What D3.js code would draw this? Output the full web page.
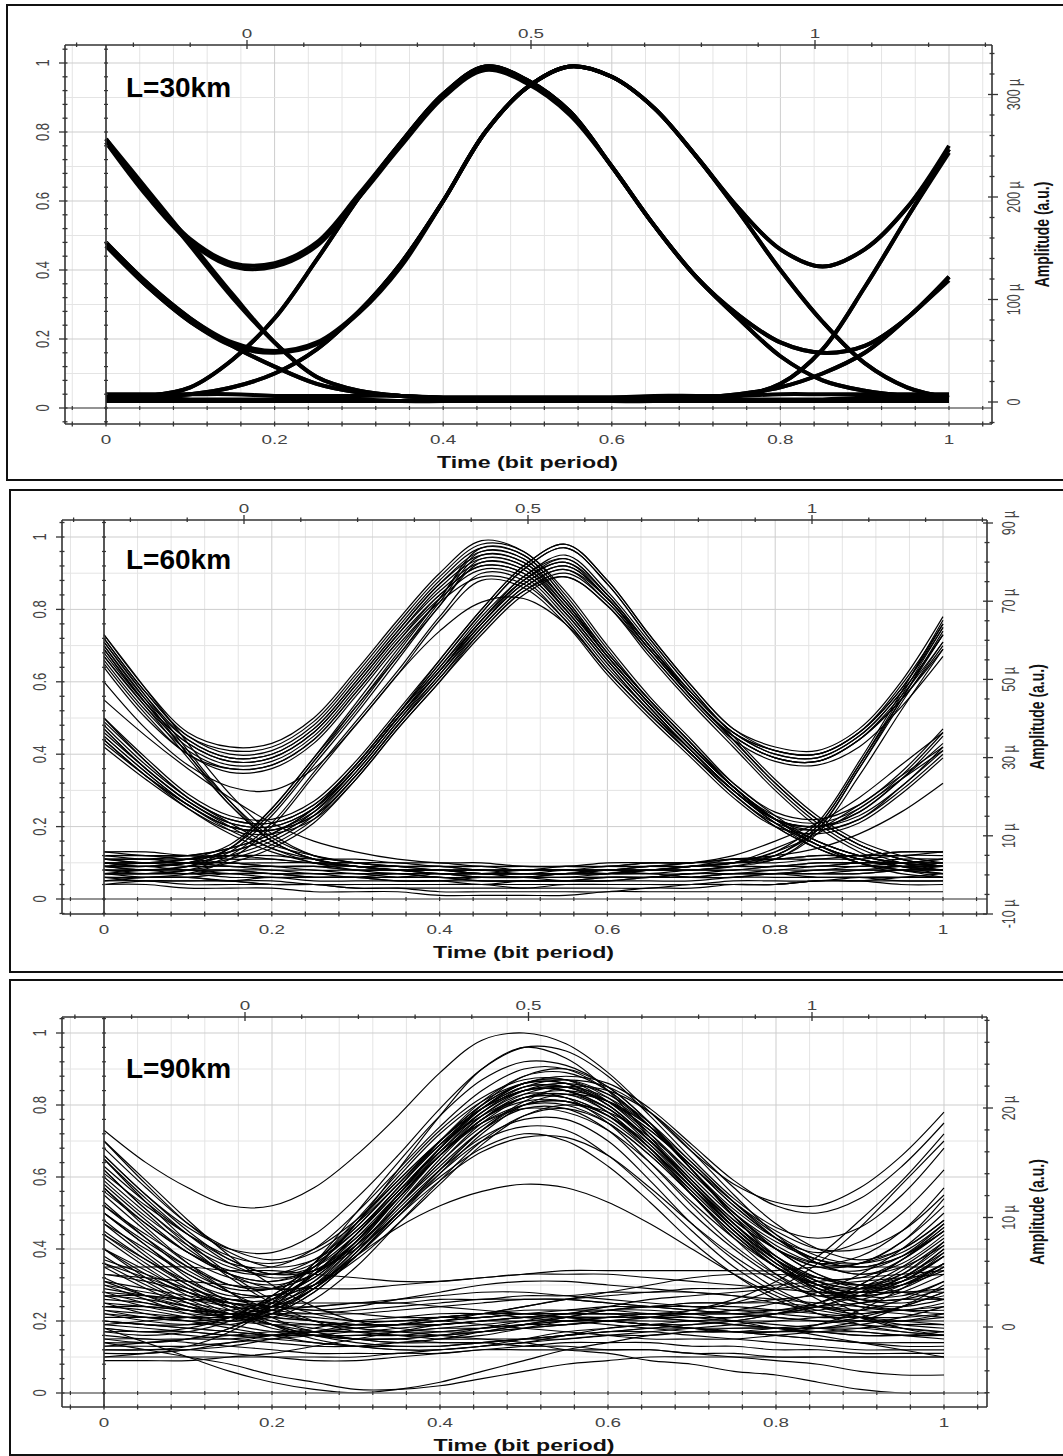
<!DOCTYPE html>
<html>
<head>
<meta charset="utf-8">
<script src="https://cdn.jsdelivr.net/npm/d3@7"></script>
<style>
body { margin: 0; background: #fff; }
svg text { font-family: "Liberation Sans", Arial, sans-serif; }
</style>
</head>
<body>
<script>
//sample times of every trace (bit period)
var timeGrid = [0, 0.05, 0.1, 0.15, 0.2, 0.25, 0.3, 0.35, 0.4, 0.45, 0.5, 0.55, 0.6, 0.65, 0.7, 0.75, 0.8, 0.85, 0.9, 0.95, 1];

//panel titles
var panelLabels = ["L=30km", "L=60km", "L=90km"];

//tick labels
var bottomTickLabels = [0, 0.2, 0.4, 0.6, 0.8, 1];
var leftTickLabels = [0, 0.2, 0.4, 0.6, 0.8, 1];
var topTickLabels = [0, 0.5, 1];
var rightTicks30 = [0, 100, 200, 300];
var rightTicks60 = [-10, 10, 30, 50, 70, 90];
var rightTicks90 = [0, 10, 20];

//eye traces, one value per timeGrid point
var traces30 = [
    [.78,.62,.49,.42,.42,.48,.62,.77,.91,.99,.95,.86,.70,.53,.38,.26,.15,.08,.05,.035,.03],
    [.77,.61,.48,.41,.41,.47,.61,.76,.90,.98,.94,.85,.70,.53,.38,.27,.19,.16,.18,.26,.38],
    [.03,.035,.06,.14,.26,.43,.61,.77,.91,.99,.95,.86,.70,.53,.38,.26,.15,.08,.05,.035,.03],
    [.03,.035,.06,.14,.26,.43,.61,.77,.91,.99,.95,.86,.70,.53,.38,.27,.19,.16,.18,.26,.38],
    [.48,.36,.26,.19,.165,.19,.28,.42,.60,.80,.93,.99,.96,.87,.73,.58,.46,.41,.46,.58,.76],
    [.47,.35,.25,.18,.16,.185,.275,.41,.60,.80,.93,.99,.96,.87,.73,.57,.40,.25,.13,.06,.03],
    [.03,.035,.04,.06,.10,.17,.28,.42,.60,.80,.93,.99,.96,.87,.73,.58,.46,.41,.46,.58,.75],
    [.03,.035,.04,.06,.10,.17,.28,.42,.60,.80,.93,.99,.96,.87,.73,.57,.40,.25,.13,.06,.03],
    [.78,.63,.48,.33,.19,.09,.05,.035,.03,.03,.03,.03,.03,.03,.03,.035,.07,.17,.35,.55,.75],
    [.48,.36,.26,.18,.12,.07,.045,.035,.03,.03,.03,.03,.03,.03,.03,.04,.06,.10,.16,.26,.38],
    [.77,.62,.47,.32,.19,.09,.05,.035,.03,.03,.03,.03,.03,.03,.03,.04,.06,.10,.16,.26,.37],
    [.47,.35,.25,.18,.12,.07,.045,.035,.03,.03,.03,.03,.03,.03,.03,.035,.07,.17,.35,.55,.74],
    [.04,.04,.04,.04,.035,.035,.035,.035,.03,.03,.03,.03,.03,.035,.035,.035,.04,.04,.04,.04,.04],
    [.02,.02,.02,.02,.02,.02,.02,.02,.02,.02,.02,.02,.02,.02,.02,.02,.02,.02,.02,.02,.02],
    [.03,.03,.025,.025,.025,.025,.025,.02,.02,.02,.02,.02,.02,.02,.025,.025,.025,.025,.03,.03,.03]
];

var traces60 = [
    [.72,.57,.45,.40,.41,.48,.61,.75,.88,.97,.95,.83,.68,.55,.43,.31,.22,.15,.11,.09,.08],
    [.69,.54,.43,.38,.39,.46,.59,.73,.86,.94,.92,.80,.66,.53,.41,.30,.21,.15,.10,.08,.07],
    [.66,.52,.41,.36,.37,.44,.57,.71,.83,.91,.89,.78,.64,.52,.40,.29,.20,.14,.10,.08,.06],
    [.73,.58,.46,.42,.43,.50,.63,.77,.90,.99,.96,.85,.70,.56,.44,.32,.23,.16,.12,.10,.09],
    [.71,.56,.44,.39,.40,.47,.60,.74,.87,.95,.93,.81,.67,.54,.42,.31,.23,.21,.25,.34,.46],
    [.67,.53,.42,.37,.38,.45,.58,.72,.84,.92,.90,.79,.65,.52,.41,.30,.22,.20,.24,.33,.43],
    [.64,.50,.40,.35,.36,.43,.56,.70,.82,.89,.87,.77,.63,.51,.40,.29,.21,.19,.22,.30,.40],
    [.70,.55,.44,.39,.40,.47,.60,.74,.87,.96,.94,.82,.67,.54,.42,.31,.22,.15,.11,.09,.08],
    [.68,.54,.43,.38,.39,.46,.59,.73,.85,.93,.91,.80,.66,.53,.41,.30,.21,.15,.11,.09,.08],
    [.65,.51,.40,.36,.37,.44,.57,.71,.84,.92,.90,.79,.65,.52,.41,.30,.22,.20,.23,.31,.42],
    [.72,.57,.45,.41,.42,.49,.62,.76,.89,.98,.96,.84,.69,.55,.43,.32,.24,.22,.26,.35,.47],
    [.09,.08,.09,.13,.23,.37,.51,.66,.81,.93,.91,.80,.66,.53,.41,.30,.21,.14,.10,.08,.07],
    [.07,.07,.08,.12,.21,.35,.49,.63,.78,.90,.88,.77,.63,.51,.40,.29,.20,.14,.10,.07,.06],
    [.10,.09,.10,.14,.24,.38,.53,.67,.82,.95,.93,.82,.67,.54,.42,.31,.22,.20,.24,.33,.45],
    [.08,.08,.09,.14,.25,.39,.54,.69,.83,.96,.94,.82,.68,.55,.43,.31,.22,.19,.22,.31,.41],
    [.09,.09,.10,.14,.24,.38,.52,.67,.81,.94,.92,.81,.67,.54,.42,.31,.22,.15,.11,.09,.08],
    [.11,.10,.11,.15,.25,.39,.53,.68,.83,.97,.95,.83,.68,.55,.43,.31,.22,.16,.12,.10,.09],
    [.06,.06,.07,.11,.20,.34,.48,.62,.77,.88,.86,.76,.62,.50,.39,.28,.20,.18,.21,.29,.39],
    [.48,.37,.28,.22,.21,.26,.37,.51,.64,.78,.89,.95,.85,.71,.57,.46,.41,.40,.46,.58,.75],
    [.45,.35,.26,.20,.19,.24,.35,.49,.62,.76,.87,.92,.83,.69,.56,.45,.39,.38,.44,.55,.70],
    [.42,.33,.25,.19,.18,.22,.33,.47,.60,.73,.84,.89,.81,.68,.55,.44,.38,.37,.42,.53,.67],
    [.50,.39,.29,.23,.22,.27,.38,.52,.66,.80,.92,.98,.88,.73,.59,.47,.42,.41,.47,.60,.78],
    [.46,.36,.27,.21,.20,.25,.36,.50,.63,.77,.88,.94,.84,.70,.57,.46,.40,.39,.45,.57,.73],
    [.44,.34,.26,.20,.19,.23,.34,.48,.61,.75,.86,.91,.83,.69,.56,.45,.39,.38,.44,.56,.71],
    [.49,.38,.28,.22,.21,.26,.37,.51,.65,.79,.91,.97,.87,.72,.58,.46,.41,.40,.46,.59,.76],
    [.47,.36,.27,.21,.20,.25,.36,.50,.63,.77,.88,.93,.84,.70,.56,.44,.32,.22,.15,.11,.09],
    [.43,.34,.26,.20,.19,.23,.34,.48,.61,.74,.85,.90,.82,.68,.55,.43,.31,.21,.14,.10,.08],
    [.10,.10,.11,.13,.17,.24,.36,.50,.64,.77,.89,.94,.84,.70,.57,.46,.40,.39,.45,.57,.73],
    [.08,.08,.09,.11,.15,.22,.34,.48,.62,.75,.86,.91,.82,.69,.56,.45,.39,.38,.44,.55,.69],
    [.11,.11,.12,.14,.18,.25,.37,.51,.65,.79,.91,.97,.87,.72,.58,.45,.33,.23,.16,.12,.10],
    [.07,.07,.08,.10,.14,.21,.33,.47,.60,.74,.85,.89,.81,.67,.54,.42,.30,.20,.13,.09,.07],
    [.09,.09,.10,.12,.16,.23,.35,.49,.63,.76,.88,.93,.83,.70,.56,.44,.32,.22,.15,.11,.09],
    [.12,.12,.12,.14,.18,.25,.37,.51,.66,.80,.92,.98,.88,.73,.59,.47,.41,.40,.46,.58,.76],
    [.10,.10,.11,.13,.17,.24,.36,.50,.63,.76,.87,.92,.83,.69,.56,.44,.32,.22,.15,.11,.09],
    [.60,.47,.37,.31,.30,.36,.48,.62,.74,.82,.83,.76,.63,.51,.40,.30,.22,.16,.12,.10,.09],
    [.71,.56,.41,.27,.16,.11,.09,.08,.08,.07,.07,.07,.08,.08,.09,.10,.12,.20,.37,.55,.73],
    [.67,.53,.39,.26,.16,.11,.09,.08,.07,.07,.06,.07,.07,.08,.08,.09,.11,.18,.34,.52,.69],
    [.73,.58,.43,.29,.18,.12,.10,.09,.09,.08,.08,.08,.08,.09,.09,.10,.13,.21,.38,.57,.77],
    [.70,.55,.40,.27,.17,.12,.10,.09,.08,.08,.08,.08,.08,.09,.10,.12,.16,.21,.28,.37,.46],
    [.47,.36,.27,.20,.14,.11,.09,.08,.08,.07,.07,.07,.08,.08,.09,.11,.12,.20,.37,.56,.75],
    [.44,.34,.25,.18,.13,.10,.08,.07,.07,.06,.06,.06,.07,.08,.09,.10,.14,.19,.26,.34,.42],
    [.55,.45,.36,.28,.21,.16,.13,.11,.10,.10,.09,.09,.09,.10,.10,.11,.12,.14,.18,.24,.32],
    [.69,.54,.40,.26,.16,.11,.09,.08,.08,.07,.07,.07,.07,.08,.08,.09,.12,.19,.36,.54,.71],
    [.45,.35,.26,.19,.14,.10,.09,.08,.07,.07,.07,.07,.07,.08,.09,.10,.13,.18,.25,.33,.41],
    [.50,.38,.28,.21,.15,.12,.10,.09,.08,.08,.07,.08,.08,.09,.09,.10,.11,.19,.36,.55,.74],
    [.12,.12,.11,.12,.11,.10,.10,.09,.09,.09,.08,.09,.09,.09,.10,.10,.11,.11,.12,.12,.13],
    [.10,.09,.10,.09,.09,.08,.08,.08,.07,.07,.07,.07,.07,.08,.08,.08,.09,.09,.10,.10,.10],
    [.08,.08,.07,.08,.07,.07,.06,.07,.06,.06,.06,.06,.06,.06,.07,.07,.07,.08,.08,.08,.08],
    [.06,.06,.06,.05,.06,.05,.05,.05,.05,.04,.05,.05,.05,.05,.05,.06,.06,.06,.06,.06,.06],
    [.05,.05,.04,.04,.04,.04,.03,.03,.03,.03,.03,.03,.03,.03,.04,.04,.04,.05,.05,.05,.05],
    [.11,.11,.10,.10,.09,.09,.08,.08,.08,.07,.07,.07,.08,.08,.08,.09,.09,.10,.10,.11,.11],
    [.09,.09,.08,.08,.08,.07,.07,.06,.06,.05,.05,.05,.06,.06,.07,.07,.08,.08,.09,.09,.09],
    [.07,.06,.06,.05,.04,.04,.03,.03,.02,.02,.02,.02,.02,.03,.03,.04,.04,.05,.05,.06,.07],
    [.04,.04,.03,.03,.03,.02,.02,.02,.01,.01,.01,.01,.02,.02,.02,.02,.02,.02,.02,.02,.02],
    [.13,.12,.12,.11,.11,.10,.10,.10,.09,.09,.09,.09,.10,.10,.10,.11,.11,.12,.12,.13,.13],
    [.05,.06,.06,.07,.07,.06,.06,.05,.05,.06,.06,.05,.05,.06,.06,.07,.07,.06,.06,.05,.05],
    [.09,.08,.08,.07,.07,.06,.06,.06,.07,.07,.08,.08,.07,.07,.06,.06,.07,.07,.08,.09,.10],
    [.13,.13,.12,.12,.12,.11,.11,.10,.10,.09,.09,.09,.09,.10,.10,.11,.11,.12,.12,.13,.13],
    [.07,.07,.07,.06,.06,.06,.06,.06,.06,.05,.05,.05,.06,.06,.06,.07,.07,.07,.07,.08,.08],
    [.04,.05,.05,.05,.04,.04,.04,.04,.04,.04,.04,.04,.04,.04,.04,.04,.04,.05,.05,.04,.04],
    [.11,.10,.10,.10,.09,.09,.09,.08,.08,.08,.08,.08,.08,.08,.09,.09,.09,.10,.10,.10,.11],
    [.12,.11,.11,.10,.10,.10,.09,.09,.09,.08,.08,.08,.09,.09,.09,.10,.10,.11,.11,.12,.12],
    [.10,.10,.09,.09,.08,.08,.07,.07,.07,.06,.06,.07,.07,.07,.08,.08,.09,.09,.10,.10,.11],
    [.08,.07,.07,.07,.06,.06,.06,.05,.05,.05,.05,.05,.05,.06,.06,.06,.07,.07,.07,.08,.08],
    [.06,.05,.05,.05,.05,.04,.04,.04,.04,.04,.03,.04,.04,.04,.04,.05,.05,.05,.06,.06,.06],
    [.09,.10,.10,.09,.09,.09,.08,.08,.08,.08,.08,.08,.08,.07,.07,.08,.08,.09,.09,.10,.10],
    [.07,.08,.08,.08,.07,.07,.07,.07,.06,.06,.06,.06,.06,.06,.07,.07,.07,.08,.08,.08,.09]
];

var traces90 = [
    [.73,.64,.57,.52,.52,.57,.66,.77,.89,.98,1.0,.97,.89,.78,.67,.58,.53,.52,.57,.66,.78],
    [.66,.55,.46,.40,.39,.44,.54,.66,.79,.90,.96,.95,.88,.77,.65,.54,.46,.43,.46,.55,.68],
    [.62,.51,.42,.36,.35,.40,.50,.62,.74,.84,.90,.90,.84,.74,.62,.51,.43,.39,.42,.50,.62],
    [.58,.48,.39,.33,.31,.35,.44,.56,.68,.79,.86,.87,.82,.72,.60,.49,.40,.35,.36,.42,.52],
    [.55,.45,.36,.30,.29,.33,.42,.54,.66,.76,.82,.83,.78,.68,.57,.46,.37,.32,.32,.37,.45],
    [.50,.41,.33,.28,.27,.32,.42,.55,.67,.77,.83,.82,.75,.64,.52,.41,.33,.28,.28,.32,.40],
    [.45,.37,.30,.25,.25,.30,.40,.52,.63,.73,.79,.79,.73,.62,.50,.40,.32,.27,.26,.30,.36],
    [.68,.57,.47,.40,.37,.40,.48,.59,.70,.79,.84,.84,.79,.70,.59,.48,.40,.36,.38,.45,.57],
    [.40,.32,.26,.22,.23,.29,.39,.51,.62,.71,.76,.76,.70,.59,.47,.37,.29,.24,.22,.24,.28],
    [.35,.29,.24,.21,.22,.28,.38,.50,.61,.70,.74,.73,.66,.56,.45,.35,.28,.24,.23,.26,.31],
    [.30,.26,.22,.20,.22,.28,.38,.49,.59,.67,.71,.71,.66,.57,.47,.38,.31,.27,.27,.31,.38],
    [.25,.22,.20,.19,.22,.29,.39,.50,.60,.68,.72,.70,.63,.53,.42,.33,.26,.22,.20,.20,.22],
    [.22,.20,.19,.20,.24,.30,.38,.46,.52,.56,.58,.57,.53,.47,.40,.33,.27,.22,.19,.17,.16],
    [.15,.14,.15,.18,.25,.36,.50,.64,.77,.87,.92,.91,.85,.75,.62,.49,.37,.28,.22,.18,.16],
    [.12,.12,.13,.17,.24,.34,.47,.60,.72,.81,.86,.86,.80,.70,.58,.47,.37,.30,.25,.23,.22],
    [.18,.17,.18,.21,.27,.36,.47,.59,.70,.79,.84,.85,.81,.73,.63,.53,.45,.40,.40,.45,.55],
    [.65,.54,.44,.36,.32,.34,.41,.52,.64,.75,.82,.84,.81,.73,.63,.52,.43,.37,.35,.38,.45],
    [.60,.50,.40,.33,.29,.30,.37,.47,.58,.69,.77,.80,.78,.71,.61,.50,.40,.33,.29,.30,.34],
    [.53,.43,.34,.29,.29,.35,.47,.62,.77,.90,.96,.93,.84,.71,.58,.46,.37,.31,.29,.32,.40],
    [.48,.39,.31,.26,.26,.31,.41,.54,.67,.78,.85,.87,.85,.78,.67,.55,.44,.36,.33,.36,.44],
    [.43,.35,.28,.24,.24,.29,.38,.50,.62,.73,.80,.81,.77,.68,.56,.45,.36,.30,.28,.31,.39],
    [.38,.31,.25,.21,.21,.26,.35,.47,.59,.70,.77,.79,.75,.66,.55,.44,.35,.30,.29,.33,.42],
    [.70,.58,.47,.39,.35,.37,.45,.57,.70,.81,.88,.89,.84,.74,.62,.50,.41,.36,.36,.42,.54],
    [.27,.24,.22,.22,.26,.33,.44,.56,.68,.78,.84,.84,.78,.68,.55,.43,.33,.26,.21,.18,.17],
    [.57,.47,.39,.34,.33,.37,.46,.58,.70,.80,.86,.88,.86,.79,.69,.59,.52,.50,.54,.63,.75],
    [.47,.40,.33,.28,.27,.30,.38,.49,.61,.72,.80,.83,.81,.74,.64,.53,.43,.36,.33,.35,.41],
    [.63,.53,.44,.37,.33,.34,.40,.50,.62,.73,.81,.85,.84,.78,.68,.57,.47,.40,.37,.40,.48],
    [.20,.19,.19,.21,.27,.36,.48,.61,.73,.82,.87,.87,.81,.71,.59,.47,.37,.30,.26,.25,.27],
    [.52,.44,.37,.32,.30,.33,.41,.52,.64,.74,.80,.81,.77,.69,.58,.47,.38,.32,.30,.33,.41],
    [.32,.27,.23,.21,.23,.30,.41,.54,.66,.76,.81,.81,.76,.67,.56,.45,.36,.30,.28,.30,.35],
    [.61,.52,.44,.38,.36,.39,.47,.58,.70,.80,.86,.86,.81,.72,.61,.50,.42,.37,.36,.40,.48],
    [.56,.47,.39,.33,.31,.34,.42,.54,.66,.77,.84,.86,.83,.75,.64,.53,.44,.38,.36,.39,.47],
    [.44,.37,.31,.27,.27,.32,.42,.55,.68,.79,.86,.87,.83,.74,.62,.50,.40,.33,.30,.31,.36],
    [.36,.30,.25,.22,.23,.29,.40,.53,.66,.76,.82,.82,.77,.67,.55,.44,.35,.29,.27,.29,.35],
    [.28,.25,.23,.23,.26,.33,.43,.55,.66,.75,.80,.80,.75,.66,.55,.44,.35,.29,.26,.26,.29],
    [.23,.21,.20,.21,.25,.33,.44,.57,.69,.79,.85,.85,.80,.70,.58,.46,.36,.29,.25,.24,.26],
    [.17,.16,.17,.20,.26,.35,.46,.58,.69,.77,.82,.82,.77,.68,.57,.46,.37,.31,.29,.31,.38],
    [.66,.55,.45,.37,.33,.35,.43,.54,.66,.76,.82,.83,.79,.70,.59,.48,.40,.35,.34,.38,.47],
    [.50,.42,.35,.30,.29,.33,.42,.55,.68,.80,.88,.90,.85,.75,.62,.49,.38,.31,.27,.27,.31],
    [.40,.34,.28,.24,.24,.29,.39,.52,.65,.76,.83,.85,.82,.74,.63,.52,.43,.37,.35,.38,.46],
    [.14,.14,.15,.18,.24,.33,.44,.56,.67,.75,.79,.78,.73,.64,.53,.43,.35,.30,.28,.30,.36],
    [.31,.27,.24,.22,.24,.31,.42,.55,.68,.78,.84,.84,.79,.69,.57,.45,.35,.28,.24,.23,.25],
    [.59,.49,.41,.35,.33,.36,.45,.57,.69,.79,.85,.85,.80,.70,.58,.47,.38,.32,.30,.32,.38],
    [.70,.59,.48,.38,.30,.24,.20,.18,.17,.17,.18,.19,.20,.21,.22,.23,.25,.28,.33,.40,.50],
    [.62,.51,.41,.32,.25,.20,.17,.16,.16,.17,.18,.19,.20,.20,.20,.21,.22,.24,.28,.34,.42],
    [.57,.46,.36,.28,.21,.17,.15,.14,.15,.16,.18,.20,.21,.22,.22,.22,.22,.23,.25,.28,.33],
    [.50,.41,.32,.25,.19,.15,.13,.12,.12,.13,.15,.17,.18,.19,.19,.20,.22,.25,.30,.37,.45],
    [.44,.36,.29,.23,.19,.16,.15,.15,.16,.18,.20,.22,.23,.23,.22,.20,.18,.17,.16,.16,.17],
    [.36,.32,.28,.25,.23,.22,.22,.23,.24,.25,.26,.26,.25,.24,.23,.22,.21,.20,.20,.20,.21],
    [.33,.32,.31,.30,.29,.29,.29,.30,.31,.32,.33,.33,.33,.32,.31,.30,.29,.28,.28,.28,.29],
    [.35,.35,.35,.34,.34,.33,.32,.31,.31,.32,.33,.34,.34,.34,.34,.34,.34,.35,.35,.35,.35],
    [.28,.27,.26,.25,.24,.23,.22,.21,.21,.21,.22,.23,.24,.24,.25,.25,.26,.27,.27,.28,.28],
    [.25,.24,.23,.22,.20,.19,.18,.17,.17,.18,.19,.20,.21,.22,.22,.23,.23,.24,.25,.26,.26],
    [.22,.21,.20,.18,.16,.14,.13,.12,.12,.13,.14,.16,.18,.19,.20,.20,.20,.20,.20,.20,.20],
    [.20,.19,.18,.17,.16,.16,.16,.17,.18,.19,.20,.20,.20,.19,.18,.17,.16,.15,.14,.13,.13],
    [.18,.17,.17,.16,.16,.17,.18,.19,.21,.22,.23,.23,.23,.22,.21,.20,.19,.18,.17,.16,.15],
    [.15,.15,.14,.13,.12,.11,.11,.11,.12,.13,.14,.15,.16,.16,.17,.17,.17,.17,.16,.16,.16],
    [.12,.12,.12,.11,.10,.09,.09,.10,.11,.12,.13,.14,.14,.14,.13,.13,.12,.12,.11,.11,.11],
    [.10,.10,.10,.10,.10,.10,.10,.11,.11,.12,.12,.12,.12,.12,.11,.11,.10,.10,.10,.10,.10],
    [.18,.14,.10,.06,.03,.01,.00,.01,.03,.06,.09,.12,.14,.16,.17,.18,.18,.18,.18,.17,.16],
    [.14,.12,.10,.08,.05,.03,.01,.01,.02,.04,.06,.08,.09,.10,.10,.10,.10,.10,.10,.10,.10],
    [.24,.24,.23,.22,.21,.20,.18,.17,.16,.15,.14,.12,.11,.09,.08,.06,.05,.03,.01,.00,.00],
    [.20,.19,.18,.17,.16,.16,.15,.15,.14,.14,.13,.13,.12,.12,.11,.10,.09,.08,.06,.05,.05],
    [.30,.28,.26,.24,.22,.21,.20,.20,.21,.22,.24,.26,.27,.28,.28,.27,.25,.23,.21,.19,.18],
    [.27,.26,.24,.22,.19,.16,.14,.13,.13,.14,.15,.16,.17,.18,.19,.20,.22,.25,.30,.37,.46],
    [.16,.15,.15,.15,.16,.17,.18,.19,.20,.21,.22,.22,.22,.22,.23,.25,.29,.36,.46,.58,.70],
    [.13,.13,.13,.14,.15,.16,.17,.17,.18,.18,.19,.19,.20,.21,.23,.26,.31,.38,.48,.59,.72],
    [.65,.53,.42,.33,.26,.22,.20,.20,.21,.22,.22,.21,.20,.19,.18,.17,.17,.19,.23,.29,.36],
    [.09,.09,.09,.10,.11,.13,.15,.17,.19,.20,.21,.21,.21,.21,.20,.19,.18,.16,.14,.12,.10],
    [.33,.31,.28,.25,.22,.20,.19,.19,.20,.22,.24,.26,.28,.30,.32,.33,.33,.32,.30,.28,.26],
    [.23,.22,.21,.20,.19,.19,.19,.19,.19,.20,.21,.22,.24,.26,.27,.28,.29,.30,.31,.32,.33],
    [.11,.11,.12,.13,.15,.17,.19,.20,.20,.19,.18,.17,.16,.15,.15,.15,.16,.17,.18,.19,.19],
    [.26,.25,.23,.21,.19,.17,.15,.14,.14,.14,.15,.16,.17,.17,.16,.15,.14,.13,.12,.12,.12],
    [.19,.20,.21,.22,.23,.24,.25,.25,.24,.23,.22,.21,.20,.19,.18,.17,.16,.15,.14,.14,.14],
    [.37,.33,.29,.26,.24,.23,.24,.26,.28,.30,.31,.31,.30,.29,.28,.27,.26,.25,.24,.23,.23],
    [.52,.43,.35,.28,.23,.20,.19,.19,.20,.21,.22,.22,.22,.21,.20,.19,.18,.18,.19,.21,.24],
    [.47,.38,.30,.24,.20,.18,.17,.18,.19,.20,.21,.22,.22,.22,.22,.22,.23,.25,.29,.35,.43],
    [.40,.33,.27,.22,.18,.16,.15,.15,.16,.17,.19,.21,.23,.24,.25,.25,.25,.24,.23,.22,.21],
    [.29,.27,.25,.23,.21,.20,.19,.19,.19,.20,.20,.21,.21,.21,.21,.21,.22,.24,.27,.32,.39],
    [.21,.21,.21,.21,.22,.22,.23,.24,.25,.26,.26,.26,.25,.24,.23,.22,.21,.20,.19,.18,.17],
    [.17,.17,.16,.15,.14,.13,.13,.14,.15,.17,.19,.21,.23,.24,.24,.24,.23,.22,.21,.20,.19],
    [.13,.14,.15,.16,.17,.17,.17,.16,.15,.15,.15,.15,.16,.17,.18,.19,.20,.21,.22,.23,.24],
    [.24,.23,.21,.19,.17,.16,.16,.16,.17,.18,.19,.20,.20,.19,.18,.17,.17,.18,.20,.24,.30],
    [.10,.11,.12,.14,.16,.18,.20,.21,.22,.22,.21,.20,.19,.18,.17,.17,.18,.19,.21,.24,.28],
    [.31,.29,.27,.25,.24,.24,.25,.26,.27,.28,.28,.27,.26,.25,.24,.23,.22,.21,.21,.21,.22],
    [.19,.18,.17,.16,.15,.14,.13,.13,.13,.14,.15,.16,.17,.18,.18,.18,.18,.17,.17,.16,.16],
    [.27,.27,.26,.26,.25,.25,.25,.25,.26,.26,.27,.27,.28,.28,.29,.29,.30,.31,.32,.33,.34]
];

(function(){

    //stretch of the axis lettering, the original figure is widened
    var textStretch = 1.45;

    var svg = d3.select("body")
        .append("svg")
        .attr("width", 1063)
        .attr("height", 1456);

    //layout of the three stacked panels
    var panels = [
        {label: panelLabels[0], traces: traces30, rTicks: rightTicks30, rMinor: 20,
         frame: [7, 5, 1062, 475], left: 65, right: 992, top: 45, bottom: 424,
         xRange: [106, 949], yRange: [408, 63], topRange: [247, 815],
         rDomain: [0, 300], rRange: [402, 94.5], labelY: 97, lineWidth: 4},
        {label: panelLabels[1], traces: traces60, rTicks: rightTicks60, rMinor: 5,
         frame: [10, 490, 1062, 482], left: 62, right: 987, top: 520, bottom: 914,
         xRange: [104, 943], yRange: [899, 537], topRange: [244, 812],
         rDomain: [-10, 90], rRange: [914, 523], labelY: 569, lineWidth: 1.2},
        {label: panelLabels[2], traces: traces90, rTicks: rightTicks90, rMinor: 2,
         frame: [10, 980, 1062, 475], left: 62, right: 987, top: 1017, bottom: 1407,
         xRange: [104, 944], yRange: [1393, 1033], topRange: [245, 812],
         rDomain: [0, 20], rRange: [1327, 1108], labelY: 1078, lineWidth: 1.15}
    ];

    panels.forEach(drawPanel);

    //tick values between lo and hi on a fixed step
    function steps(lo, hi, step){
        var out = [];
        for (var k = Math.ceil(lo / step - 1e-6); k * step <= hi + 1e-6; k++){
            out.push(+(k * step).toFixed(4));
        }
        return out;
    };

    function isMultiple(v, step){
        return Math.abs(v / step - Math.round(v / step)) < 1e-6;
    };

    function addLine(g, x1, y1, x2, y2, color, width){
        g.append("line")
            .attr("x1", x1).attr("y1", y1)
            .attr("x2", x2).attr("y2", y2)
            .attr("stroke", color)
            .attr("stroke-width", width);
    };

    //axis lettering, widened like the source picture
    function addText(g, txt, cx, cy, rotated, size, weight, color){
        var tr = "translate(" + cx + "," + cy + ")" +
            (rotated ? " rotate(-90) scale(1," + textStretch + ")" : " scale(" + textStretch + ",1)");
        g.append("text")
            .attr("transform", tr)
            .attr("text-anchor", "middle")
            .attr("dy", "0.35em")
            .attr("fill", color)
            .style("font-size", size + "px")
            .style("font-weight", weight)
            .text(txt);
    };

    function drawPanel(p){
        var g = svg.append("g");

        var x = d3.scaleLinear().domain([0, 1]).range(p.xRange),
            y = d3.scaleLinear().domain([0, 1]).range(p.yRange),
            xTop = d3.scaleLinear().domain([0, 1]).range(p.topRange),
            yRight = d3.scaleLinear().domain(p.rDomain).range(p.rRange);

        //outer frame
        g.append("rect")
            .attr("x", p.frame[0])
            .attr("y", p.frame[1])
            .attr("width", p.frame[2])
            .attr("height", p.frame[3])
            .attr("fill", "none")
            .attr("stroke", "#111")
            .attr("stroke-width", 2);

        var xTicks = steps(x.invert(p.left), x.invert(p.right), 0.04),
            yTicks = steps(y.invert(p.bottom), y.invert(p.top), 0.04),
            yGrid = steps(y.invert(p.bottom), y.invert(p.top), 0.1),
            topTicks = steps(xTop.invert(p.left), xTop.invert(p.right), 0.1),
            rightMinor = steps(yRight.invert(p.bottom), yRight.invert(p.top), p.rMinor);

        //grid
        var grid = g.append("g");
        xTicks.forEach(function(v){
            addLine(grid, x(v), p.top, x(v), p.bottom, isMultiple(v, 0.2) ? "#cdcdcd" : "#e4e4e4", 1);
        });
        yGrid.forEach(function(v){
            addLine(grid, p.left, y(v), p.right, y(v), isMultiple(v, 0.2) ? "#cdcdcd" : "#e4e4e4", 1);
        });

        //eye traces
        var line = d3.line()
            .x(function(d, i){ return x(timeGrid[i]); })
            .y(function(d){ return y(d); })
            .curve(d3.curveCatmullRom.alpha(0.5));

        g.append("g")
            .selectAll(".trace")
            .data(p.traces)
            .enter()
            .append("path")
            .attr("class", "trace")
            .attr("d", line)
            .attr("fill", "none")
            .attr("stroke", "#000")
            .attr("stroke-width", p.lineWidth);

        var axes = g.append("g");

        //zero lines with their ticks
        addLine(axes, p.left, y(0), p.right, y(0), "#777", 1.4);
        xTicks.forEach(function(v){ addLine(axes, x(v), y(0) - 2, x(v), y(0) + 2, "#333", 1.2); });
        addLine(axes, x(0), p.top, x(0), p.bottom, "#333", 1.6);
        yTicks.forEach(function(v){ addLine(axes, x(0) - 2, y(v), x(0) + 2, y(v), "#333", 1.2); });

        //frame axes
        addLine(axes, p.left, p.top, p.right, p.top, "#333", 1.4);
        addLine(axes, p.left, p.bottom, p.right, p.bottom, "#333", 1.6);
        addLine(axes, p.left, p.top, p.left, p.bottom, "#333", 1.6);
        addLine(axes, p.right, p.top, p.right, p.bottom, "#333", 1.6);

        xTicks.forEach(function(v){
            addLine(axes, x(v), p.bottom - 2.5, x(v), p.bottom + 2.5, "#333", 1.3);
        });
        yTicks.forEach(function(v){
            var major = isMultiple(v, 0.2);
            addLine(axes, p.left - (major ? 6 : 2.5), y(v), p.left + 2.5, y(v), "#333", 1.3);
        });
        topTicks.forEach(function(v){
            var major = isMultiple(v, 0.5);
            addLine(axes, xTop(v), p.top - (major ? 5 : 2.5), xTop(v), p.top + (major ? 4 : 2), "#333", 1.3);
        });
        rightMinor.forEach(function(v){
            var major = p.rTicks.indexOf(v) >= 0;
            addLine(axes, p.right - (major ? 4 : 2.5), yRight(v), p.right + (major ? 6 : 2.5), yRight(v), "#333", 1.3);
        });

        //tick labels
        bottomTickLabels.forEach(function(v){
            addText(axes, String(v), x(v), p.bottom + 15, false, 13, "normal", "#444");
        });
        leftTickLabels.forEach(function(v){
            addText(axes, String(v), p.left - 23, y(v), true, 13, "normal", "#444");
        });
        topTickLabels.forEach(function(v){
            addText(axes, String(v), xTop(v), p.top - 12, false, 13, "normal", "#444");
        });
        p.rTicks.forEach(function(v){
            addText(axes, v === 0 ? "0" : v + " \u00b5", p.right + 22, yRight(v), true, 12.5, "normal", "#444");
        });

        //axis titles
        addText(axes, "Time (bit period)", (x(0) + x(1)) / 2, p.bottom + 38, false, 16, "bold", "#111");
        addText(axes, "Amplitude (a.u.)", p.right + 50, (p.top + p.bottom) / 2, true, 14, "bold", "#111");

        //fibre length label
        g.append("text")
            .attr("x", 126)
            .attr("y", p.labelY)
            .attr("fill", "#000")
            .style("font-size", "28px")
            .style("font-weight", "bold")
            .text(p.label);
    };

})();
</script>
</body>
</html>
